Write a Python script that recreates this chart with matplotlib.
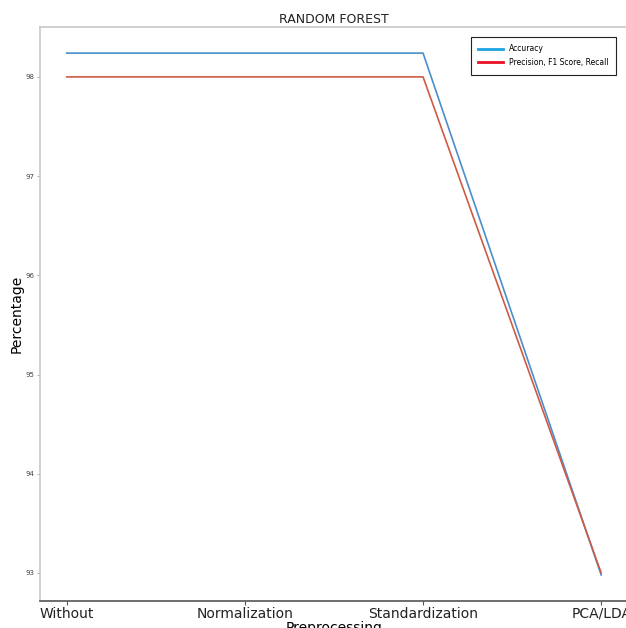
import matplotlib.pyplot as plt
from matplotlib.lines import Line2D

# values
methods = ['Without', 'Normalization', 'Standardization', 'PCA/LDA']
accuracy = [98.24, 98.24, 98.24, 92.98]
precision = [98.0, 98.0, 98.0, 93.0]
yticks = [93, 94, 95, 96, 97, 98]

fig = plt.figure(figsize=(6.26, 6.28), dpi=100)
ax = fig.add_axes([0.064, 0.043, 0.939, 0.914])

x = list(range(len(methods)))
ax.plot(x, accuracy, color='#4a8fcb', lw=1.2)
ax.plot(x, precision, color='#cf5a44', lw=1.2)

ax.set_xticks(x)
ax.set_xticklabels(methods, fontsize=10)
ax.set_yticks(yticks)
ax.set_yticklabels([str(t) for t in yticks], fontsize=5, color='#444444')
ax.tick_params(axis='y', length=2, width=0.6, colors='#999999', labelcolor='#444444', pad=2)
ax.tick_params(axis='x', length=3, width=0.8, colors='#555555', labelcolor='#222222', pad=1)

ax.set_title('RANDOM FOREST', fontsize=9, color='#222222', pad=3)
ax.set_ylabel('Percentage', fontsize=10, labelpad=1)
ax.set_xlabel('Preprocessing', fontsize=10, labelpad=0)

ax.spines['left'].set_color('#c8c8c8')
ax.spines['top'].set_color('#c8c8c8')
ax.spines['right'].set_visible(False)
ax.spines['bottom'].set_color('#555555')
for s in ax.spines.values():
    s.set_linewidth(1.2)

handles = [Line2D([0], [0], color='#1ba1e2', lw=2),
           Line2D([0], [0], color='#e81123', lw=2)]
leg = ax.legend(handles, ['Accuracy', 'Precision, F1 Score, Recall'],
                loc='upper right', bbox_to_anchor=(0.98, 0.983), borderaxespad=0,
                fontsize=5.5, fancybox=False, edgecolor='#222222',
                framealpha=1, handlelength=3.2, borderpad=1.0, labelspacing=0.6)
leg.get_frame().set_linewidth(0.8)

fig.savefig('out.png', dpi=100)
